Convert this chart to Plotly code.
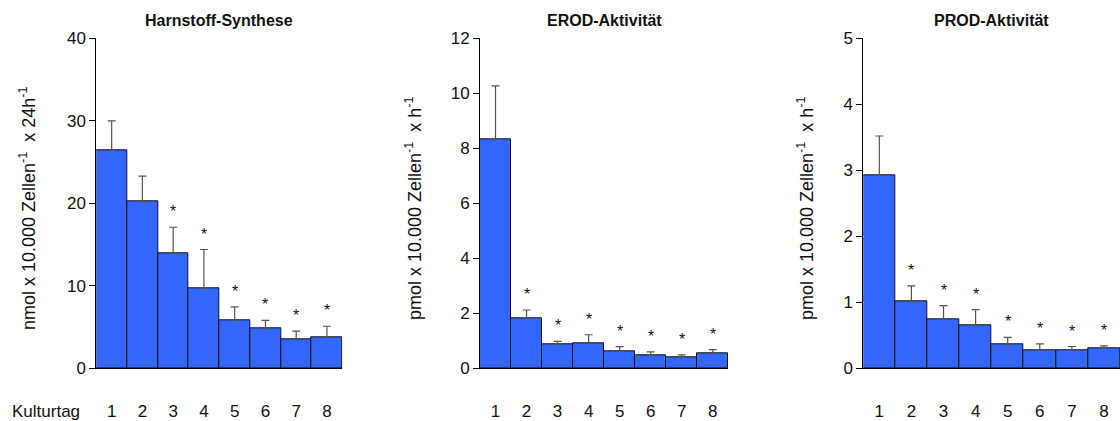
import plotly.graph_objects as go

# Culture days 1-8
days = ["1", "2", "3", "4", "5", "6", "7", "8"]

# Urea synthesis (nmol x 10.000 cells^-1 x 24h^-1)
urea_mean = [26.4, 20.2, 13.9, 9.7, 5.8, 4.8, 3.5, 3.8]
urea_sd = [3.6, 3.1, 3.2, 4.7, 1.65, 1.0, 1.0, 1.3]
urea_sig = [False, False, True, True, True, True, True, True]

# EROD activity (pmol x 10.000 cells^-1 x h^-1)
erod_mean = [8.33, 1.82, 0.87, 0.91, 0.62, 0.48, 0.41, 0.53]
erod_sd = [1.94, 0.30, 0.11, 0.31, 0.17, 0.12, 0.08, 0.15]
erod_sig = [False, True, True, True, True, True, True, True]

# PROD activity (pmol x 10.000 cells^-1 x h^-1)
prod_mean = [2.92, 1.01, 0.75, 0.65, 0.36, 0.27, 0.28, 0.31]
prod_sd = [0.60, 0.24, 0.20, 0.24, 0.11, 0.10, 0.05, 0.03]
prod_sig = [False, True, True, True, True, True, True, True]

titles = ["Harnstoff-Synthese", "EROD-Aktivität", "PROD-Aktivität"]
y_titles = [
    "nmol x 10.000 Zellen<sup>-1</sup>  x 24h<sup>-1</sup>",
    "pmol x 10.000 Zellen<sup>-1</sup>  x h<sup>-1</sup>",
    "pmol x 10.000 Zellen<sup>-1</sup>  x h<sup>-1</sup>",
]
y_max = [40, 12, 5]
y_step = [10, 2, 1]

W, H = 1120, 421
BAR_COLOR = "#3366FF"
FONT = "Liberation Sans, Arial, sans-serif"

# panel geometry in pixels: (left, right) of the plotting area
x_px = [(96.3, 342.3), (480.0, 728.3), (863.3, 1120.0)]
y_bottom_px, y_top_px = 368.3, 38.3
y_title_x_px = [27, 413, 805]

panels = [
    (urea_mean, urea_sd, urea_sig),
    (erod_mean, erod_sd, erod_sig),
    (prod_mean, prod_sd, prod_sig),
]

fig = go.Figure()
annotations = []
layout = {}

for i, (mean, sd, sig) in enumerate(panels):
    n = "" if i == 0 else str(i + 1)
    xa, ya = "x" + n, "y" + n
    fig.add_trace(go.Bar(
        x=days, y=mean, xaxis=xa, yaxis=ya,
        marker=dict(color=BAR_COLOR, line=dict(color="#111111", width=1)),
        error_y=dict(type="data", array=sd, arrayminus=[0] * len(sd), symmetric=False,
                     color="#555555", thickness=1.2, width=4),
        showlegend=False, hoverinfo="skip",
    ))
    # significance marks above error bars (category index as x)
    for k, (m, s, flag) in enumerate(zip(mean, sd, sig)):
        if flag:
            annotations.append(dict(
                x=k, y=m + s, xref=xa, yref=ya, text="*", showarrow=False,
                yanchor="bottom", yshift=5, font=dict(size=16, color="#111111", family=FONT),
            ))
    x0, x1 = x_px[i]
    layout["xaxis" + n] = dict(
        domain=[x0 / W, x1 / W], anchor=ya, type="category", range=[-0.5, 7.5],
        showline=True, linecolor="#000000", linewidth=1, ticks="", showgrid=False,
        tickfont=dict(size=17, color="#111111", family=FONT), ticklabelstandoff=27,
        zeroline=False,
    )
    layout["yaxis" + n] = dict(
        domain=[(H - y_bottom_px) / H, (H - y_top_px) / H], anchor=xa,
        range=[0, y_max[i]], tickmode="linear", tick0=0, dtick=y_step[i],
        showline=True, linecolor="#000000", linewidth=1, ticks="outside", ticklen=6,
        tickcolor="#000000", showgrid=False, zeroline=False,
        tickfont=dict(size=17, color="#111111", family=FONT),
    )
    # panel title
    annotations.append(dict(
        x=(x0 + x1) / 2 / W, y=(H - 20.7) / H, xref="paper", yref="paper",
        text="<b>" + titles[i] + "</b>", showarrow=False, xanchor="center", yanchor="middle",
        font=dict(size=16, color="#111111", family=FONT),
    ))
    # rotated y-axis title
    annotations.append(dict(
        x=y_title_x_px[i] / W, y=(H - 208) / H, xref="paper", yref="paper",
        text=y_titles[i], textangle=-90, showarrow=False, xanchor="center", yanchor="middle",
        font=dict(size=18, color="#111111", family=FONT),
    ))

annotations.append(dict(
    x=10 / W, y=(H - 411) / H, xref="paper", yref="paper", text="Kulturtag",
    showarrow=False, xanchor="left", yanchor="middle",
    font=dict(size=17, color="#111111", family=FONT),
))

fig.update_layout(
    width=W, height=H, margin=dict(l=0, r=0, t=0, b=0, autoexpand=False),
    paper_bgcolor="white", plot_bgcolor="white", bargap=0,
    annotations=annotations, **layout,
)

fig.write_html("out.html")
